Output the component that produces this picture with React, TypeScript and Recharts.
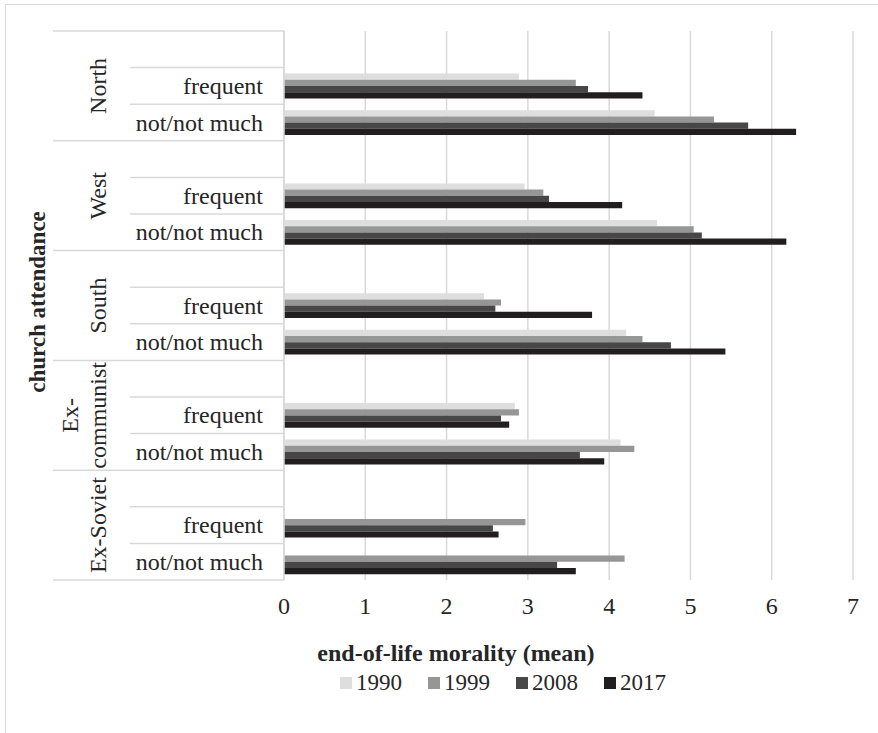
import React from 'react';
import { BarChart, Bar, XAxis, YAxis, CartesianGrid } from 'recharts';

const regions = ['North', 'West', 'South', 'Ex-communist', 'Ex-Soviet'];
const regionLabelLines: Record<string, string[]> = {
  North: ['North'],
  West: ['West'],
  South: ['South'],
  'Ex-communist': ['Ex-', 'communist'],
  'Ex-Soviet': ['Ex-Soviet'],
};
const attendance = ['frequent', 'not/not much'];
const years = ['1990', '1999', '2008', '2017'];
const yearColors = ['#dedede', '#969696', '#474747', '#221e1f'];

// mean end-of-life morality, per region: frequent, not/not much
const mean1990 = [2.89, 4.56, 2.96, 4.59, 2.46, 4.21, 2.84, 4.14, null, null];
const mean1999 = [3.59, 5.29, 3.19, 5.04, 2.67, 4.41, 2.89, 4.31, 2.97, 4.19];
const mean2008 = [3.74, 5.71, 3.26, 5.14, 2.6, 4.76, 2.67, 3.64, 2.57, 3.36];
const mean2017 = [4.41, 6.3, 4.16, 6.18, 3.79, 5.43, 2.77, 3.94, 2.64, 3.59];
const xTicks = [0, 1, 2, 3, 4, 5, 6, 7];

const series = [mean1990, mean1999, mean2008, mean2017];

// each region gets an empty slot above its two attendance rows
const data = regions.flatMap((region, r) => {
  const blank: Record<string, any> = { key: `${region}|` };
  years.forEach((y) => {
    blank[`y${y}`] = null;
  });
  const rows = attendance.map((a, i) => {
    const row: Record<string, any> = { key: `${region}|${a}` };
    years.forEach((y, s) => {
      row[`y${y}`] = series[s][r * 2 + i];
    });
    return row;
  });
  return [blank, ...rows];
});

const FONT = '"Liberation Serif", "Times New Roman", serif';
const TEXT = '#262626';
const LINE = '#d9d9d9';

const CategoryTick = (props: any) => {
  const { y, payload, index } = props;
  const [region, sub] = String(payload.value).split('|');
  const half = typeof payload.offset === 'number' && payload.offset > 0 ? payload.offset : 18.3;
  const axisX = 284;
  const outerX = 53;
  const innerX = 130;
  const isLast = sub === attendance[attendance.length - 1];
  const lines = regionLabelLines[region] || [region];
  return (
    <g>
      {index === 0 && (
        <line x1={outerX} x2={axisX} y1={y - half} y2={y - half} stroke={LINE} strokeWidth={1.5} />
      )}
      <line
        x1={isLast ? outerX : innerX}
        x2={axisX}
        y1={y + half}
        y2={y + half}
        stroke={LINE}
        strokeWidth={1.5}
      />
      {sub !== '' && (
        <text x={263} y={y} textAnchor="end" dominantBaseline="central" fontFamily={FONT} fontSize={24} fill={TEXT}>
          {sub}
        </text>
      )}
      {sub === '' &&
        lines.map((ln, j) => {
          const cx = 98 - (lines.length - 1 - j) * 28;
          const cy = y + 2 * half;
          return (
            <text
              key={ln}
              x={cx}
              y={cy}
              transform={`rotate(-90, ${cx}, ${cy})`}
              textAnchor="middle"
              dominantBaseline="central"
              fontFamily={FONT}
              fontSize={24}
              fill={TEXT}
            >
              {ln}
            </text>
          );
        })}
    </g>
  );
};

const ValueTick = (props: any) => {
  const { x, payload } = props;
  return (
    <text x={x} y={614} textAnchor="middle" fontFamily={FONT} fontSize={24} fill={TEXT}>
      {payload.value}
    </text>
  );
};

export default function App() {
  return (
    <div
      style={{
        position: 'absolute',
        left: 0,
        top: 0,
        width: 878,
        height: 733,
        overflow: 'hidden',
        background: '#fff',
      }}
    >
      <div
        style={{
          position: 'absolute',
          left: 5,
          top: 4,
          width: 900,
          height: 800,
          border: `1.5px solid ${LINE}`,
          boxSizing: 'border-box',
        }}
      />
      <div style={{ position: 'absolute', left: 0, top: 0 }}>
        <BarChart
          width={878}
          height={733}
          data={data}
          layout="vertical"
          margin={{ top: 31, right: 25, bottom: 0, left: 0 }}
          barSize={6.2}
          barGap={0}
        >
          <CartesianGrid horizontal={false} stroke={LINE} strokeWidth={1.5} />
          <XAxis
            type="number"
            domain={[0, 7]}
            ticks={xTicks}
            interval={0}
            axisLine={false}
            tickLine={false}
            height={153}
            tick={<ValueTick />}
          />
          <YAxis
            type="category"
            dataKey="key"
            width={284}
            interval={0}
            axisLine={{ stroke: LINE, strokeWidth: 1.5 }}
            tickLine={false}
            tick={<CategoryTick />}
          />
          {years.map((y, i) => (
            <Bar key={y} dataKey={`y${y}`} name={y} fill={yearColors[i]} isAnimationActive={false} />
          ))}
          <text
            x={37}
            y={302}
            transform="rotate(-90, 37, 302)"
            textAnchor="middle"
            dominantBaseline="central"
            fontFamily={FONT}
            fontSize={23}
            fontWeight="bold"
            fill={TEXT}
          >
            church attendance
          </text>
          <text x={456} y={661} textAnchor="middle" fontFamily={FONT} fontSize={24} fontWeight="bold" fill={TEXT}>
            end-of-life morality (mean)
          </text>
        </BarChart>
      </div>
      {years.map((y, i) => (
        <div
          key={y}
          style={{
            position: 'absolute',
            left: 340 + i * 88,
            top: 670,
            height: 26,
            display: 'flex',
            alignItems: 'center',
            fontFamily: FONT,
            fontSize: 23,
            color: TEXT,
            lineHeight: '26px',
          }}
        >
          <span style={{ display: 'inline-block', width: 12, height: 12, background: yearColors[i], marginRight: 4 }} />
          <span>{y}</span>
        </div>
      ))}
    </div>
  );
}
